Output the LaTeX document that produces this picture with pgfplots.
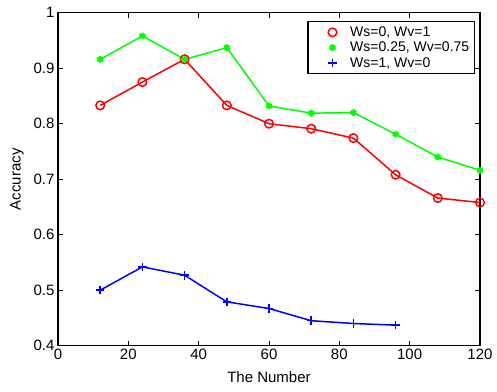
\documentclass[border=0pt]{standalone}
\usepackage{pgfplots}
\pgfplotsset{compat=1.18}
\usepackage{fontspec}
\setmainfont{Liberation Sans}
\definecolor{mgreen}{rgb}{0,1,0}
\begin{document}
\begin{tikzpicture}
\begin{axis}[
  scale only axis,
  width=422pt, height=333pt,
  xmin=0, xmax=120, ymin=0.4, ymax=1,
  xtick={0,20,...,120},
  ytick={0.4,0.5,...,1.0},
  yticklabels={0.4,0.5,0.6,0.7,0.8,0.9,1},
  /pgf/number format/assume math mode=true,
  tick label style={font=\fontsize{15}{17}\selectfont},
  label style={font=\fontsize{15}{17}\selectfont},
  xlabel={The Number},
  ylabel={Accuracy},
  xlabel style={yshift=-5pt},
  ylabel style={yshift=3pt},
  tick align=inside,
  major tick length=5pt,
  axis line style={line width=1.6pt},
  every tick/.style={black, line width=1pt},
  legend style={at={(rel axis cs:0.988,0.975)}, anchor=north east,
    draw=black, line width=1.4pt, font=\fontsize{14}{16}\selectfont,
    inner xsep=3pt, inner ysep=3pt, row sep=0pt},
  legend cell align=left,
  legend image code/.code={\path[draw=none,fill=none] (0,0) -- (1.3cm,0); \draw[#1, line width=1.5pt] plot coordinates {(0.75cm,0cm)};},
]
\addplot[red, line width=1.5pt, mark=o, mark size=4.3pt, mark options={line width=1.5pt}] coordinates {
(12,0.833) (24,0.875) (36,0.916) (48,0.833) (60,0.800) (72,0.791) (84,0.774) (96,0.708) (108,0.666) (120,0.658)};
\addlegendentry{Ws=0, Wv=1}
\addplot[mgreen, line width=1.5pt, mark=asterisk, mark size=3.4pt, mark options={line width=2.2pt}] coordinates {
(12,0.916) (24,0.958) (36,0.916) (48,0.937) (60,0.832) (72,0.819) (84,0.820) (96,0.781) (108,0.740) (120,0.716)};
\addlegendentry{Ws=0.25, Wv=0.75}
\addplot[blue, line width=1.5pt, mark=+, mark size=4.3pt, mark options={line width=1.5pt}] coordinates {
(12,0.500) (24,0.542) (36,0.527) (48,0.479) (60,0.467) (72,0.445) (84,0.440) (96,0.437)};
\addlegendentry{Ws=1, Wv=0}
\end{axis}
\useasboundingbox (current axis.south west) ++(-58pt,-46pt) rectangle ([xshift=17pt,yshift=12.7pt]current axis.north east);
\end{tikzpicture}
\end{document}
